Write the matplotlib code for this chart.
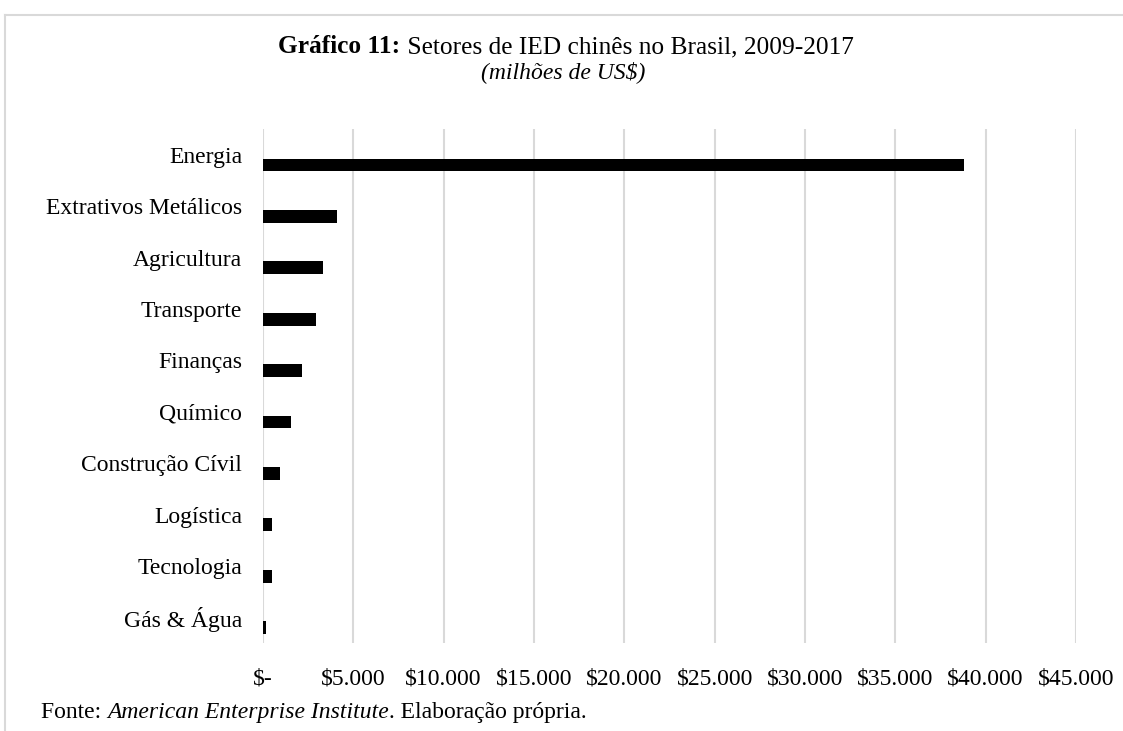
import matplotlib
matplotlib.use("Agg")
import matplotlib.pyplot as plt
from matplotlib.lines import Line2D
from matplotlib.ticker import FuncFormatter

plt.rcParams['font.family'] = ['Liberation Serif', 'DejaVu Serif']

setores = ["Energia", "Extrativos Metálicos", "Agricultura", "Transporte", "Finanças",
           "Químico", "Construção Cívil", "Logística", "Tecnologia", "Gás & Água"]
valores = [38800, 4100, 3320, 2920, 2160, 1530, 940, 500, 500, 190]
ticks_x = [0, 5000, 10000, 15000, 20000, 25000, 30000, 35000, 40000, 45000]

FS = 17
GRID = "#d9d9d9"

fig = plt.figure(figsize=(11.23, 7.31), dpi=100)
ax = fig.add_axes([263 / 1123, 1 - 643 / 731, (1076 - 263) / 1123, (643 - 129) / 731])

pos = list(range(len(setores)))
# barras levemente abaixo do centro da categoria
ax.barh([p + 0.2 for p in pos], valores, height=0.25, color="black", zorder=3)
ax.set_yticks(pos)
ax.set_yticklabels(setores, fontsize=FS)
ax.set_ylim(len(setores) - 0.5, -0.5)

ax.set_xlim(0, 45000)
ax.set_xticks(ticks_x)


def moeda(v, _):
    if v == 0:
        return "$-"
    return "$" + f"{int(v):,}".replace(",", ".")


ax.xaxis.set_major_formatter(FuncFormatter(moeda))
ax.tick_params(axis="x", labelsize=FS, length=0, pad=18)
ax.tick_params(axis="y", length=0, pad=15)
ax.grid(axis="x", color=GRID, linewidth=1.5, zorder=0)
for s in ax.spines.values():
    s.set_visible(False)

# moldura cinza (topo e lado esquerdo)
fig.add_artist(Line2D([5 / 1123, 1], [1 - 15 / 731, 1 - 15 / 731], color=GRID, lw=1.5))
fig.add_artist(Line2D([5 / 1123, 5 / 1123], [0, 1 - 15 / 731], color=GRID, lw=1.5))

renderer = fig.canvas.get_renderer()


def runs(partes, x, y, fs=FS, centro=False):
    # escreve trechos com estilos diferentes lado a lado (x, y em pixels, y = linha de base)
    larguras = []
    for txt, kw in partes:
        t = fig.text(0, 0, txt, fontsize=fs, **kw)
        larguras.append(t.get_window_extent(renderer).width)
        t.remove()
    if centro:
        x = x - sum(larguras) / 2
    for (txt, kw), w in zip(partes, larguras):
        fig.text(x / 1123, 1 - y / 731, txt, fontsize=fs, va="baseline", **kw)
        x += w


runs([("Gráfico 11:", dict(fontweight="bold")),
      (" Setores de IED chinês no Brasil, 2009-2017", {})], 566, 53, fs=18.3, centro=True)
fig.text(563 / 1123, 1 - 78 / 731, "(milhões de US$)", fontsize=FS, style="italic",
         ha="center", va="baseline")
runs([("Fonte: ", {}), ("American Enterprise Institute", dict(style="italic")),
      (". Elaboração própria.", {})], 41, 718)

fig.savefig("out.png", dpi=100)
